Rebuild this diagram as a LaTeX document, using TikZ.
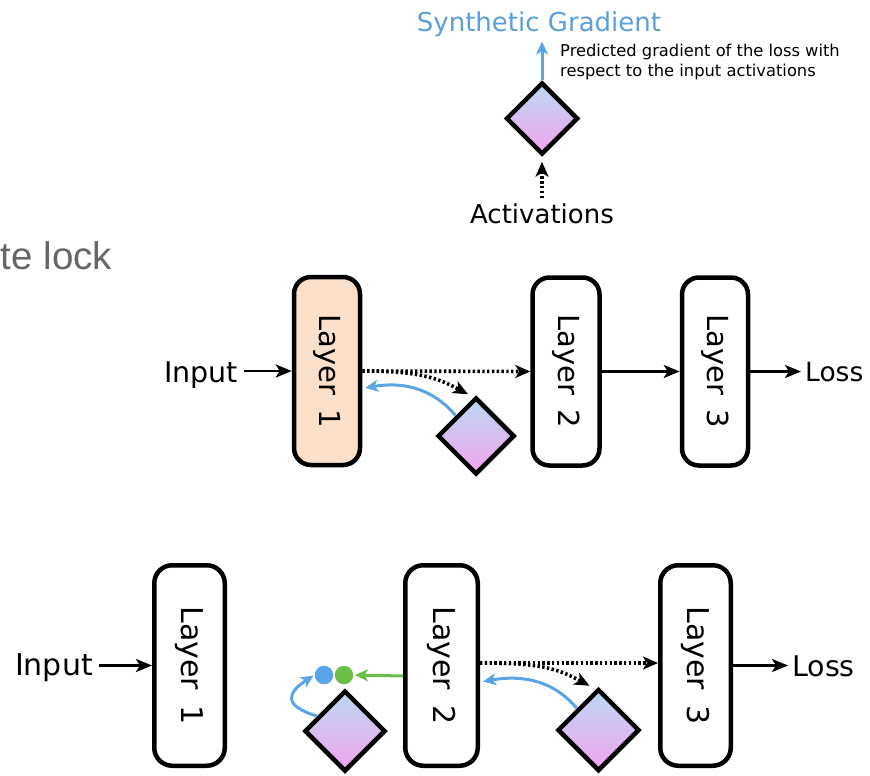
\documentclass[tikz,border=0pt]{standalone}
\usepackage{fontspec}
\setmainfont{DejaVu Sans}
\newfontfamily\arialfont{Liberation Sans}
\usetikzlibrary{shapes.geometric,arrows.meta,calc}

\definecolor{sgblue}{HTML}{5AA5E6}
\definecolor{sgtext}{HTML}{5B9FDA}
\definecolor{actgreen}{HTML}{6BBF47}
\definecolor{peach}{HTML}{FCE0C9}
\definecolor{dtop}{HTML}{BCD9F4}
\definecolor{dbot}{HTML}{F2A4EE}
\definecolor{lockgrey}{HTML}{666666}

\begin{document}
\begin{tikzpicture}[x=1pt,y=1pt,
  layerbox/.style={draw=black, line width=4.5pt, fill=white, inner sep=0pt},
  layertext/.style={rotate=-90, inner sep=0pt},
  sgdiamond/.style={diamond, aspect=1, draw=black, line width=4.5pt,
    top color=dtop, bottom color=dbot, inner sep=0pt,
    minimum width=#1, minimum height=#1},
  label/.style={inner sep=0pt},
  blk/.style={line width=2.8pt, -{Stealth[length=16pt,width=13pt,inset=4pt]}},
  dots/.style={line width=3.6pt, dash pattern=on 2.4pt off 2.4pt,
    -{Stealth[length=15pt,width=13pt,inset=4pt]}},
  bluearr/.style={draw=sgblue, line width=3pt,
    -{Stealth[length=13pt,width=12pt,inset=3.5pt,color=sgblue]}},
  greenarr/.style={draw=actgreen, line width=3pt,
    -{Stealth[length=13pt,width=12pt,inset=3.5pt,color=actgreen]}},
  dot/.style={circle, inner sep=0pt, minimum size=18.5pt},
]
\useasboundingbox (0,0) rectangle (870,-776);

% ---- heading fragment
\node[label, anchor=base west, text=lockgrey,
      font=\arialfont\fontsize{38.5}{44}\selectfont] (lock) at (0.5,-269) {te lock};

% ---- synthetic gradient module
\node[sgdiamond=72pt] (d0) at (542,-118.5) {};
\node[label, anchor=base, text=sgtext, font=\fontsize{26}{30}\selectfont]
  (sg) at (539,-32) {Synthetic Gradient};
\node[label, anchor=north west, align=left, font=\fontsize{16.3}{20}\selectfont]
  (note) at (560,-43.5) {Predicted gradient of the loss with\\respect to the input activations};
\node[label, anchor=base, font=\fontsize{26}{30}\selectfont]
  (act) at (542,-223) {Activations};
\draw[dots, shorten >=5pt] ($(act.north)+(0,5)$) -- (d0.south);
\draw[bluearr] (d0.north) -- ($(d0.north |- sg.south)+(0,-4)$);

% ---- upper network: layer 1 locked
\begin{scope}[font=\fontsize{29}{34}\selectfont]
\node[layerbox, fill=peach, rounded corners=17pt, minimum width=66pt, minimum height=188pt]
  (L1) at (327,-371) {};
\node[layertext] (L1t) at (L1) {Layer\hspace{0.5em}1};
\node[layerbox, rounded corners=17pt, minimum width=67pt, minimum height=188pt]
  (L2) at (566,-371.5) {};
\node[layertext] (L2t) at (L2) {Layer\hspace{0.5em}2};
\node[layerbox, rounded corners=17pt, minimum width=66pt, minimum height=188pt]
  (L3) at (715,-371.5) {};
\node[layertext] (L3t) at (L3) {Layer\hspace{0.5em}3};
\node[sgdiamond=77pt] (d1) at (476,-436) {};
\end{scope}
\node[label, anchor=base east, font=\fontsize{28.5}{33}\selectfont] (in1) at (238,-382) {Input};
\node[label, anchor=base west, font=\fontsize{26.5}{30}\selectfont] (loss1) at (805,-381) {Loss};

\draw[blk, shorten <=6pt] (in1.east |- L1.west) -- (L1.west);
\draw[blk] (L2.east) -- (L3.west);
\draw[blk, shorten >=4pt] (L3.east) -- (L3.east -| loss1.west);
\draw[dots] (L1.east) -- (L2.west);
\draw[dots] (L1.east) .. controls +(58,0) and +(-30,16) .. ($(d1.north)+(-8,1)$);
\draw[bluearr] (d1.north west) to[out=130, in=10] ($(L1.east)+(3,-17)$);

% ---- lower network: decoupled layers
\begin{scope}[font=\fontsize{30}{35}\selectfont]
\node[layerbox, rounded corners=18pt, minimum width=70.5pt, minimum height=200.5pt]
  (L1b) at (189.5,-665.5) {};
\node[layertext] (L1bt) at (L1b) {Layer\hspace{0.5em}1};
\node[layerbox, rounded corners=18pt, minimum width=72.5pt, minimum height=200.5pt]
  (L2b) at (441.5,-665.5) {};
\node[layertext] (L2bt) at (L2b) {Layer\hspace{0.5em}2};
\node[layerbox, rounded corners=18pt, minimum width=70.5pt, minimum height=200.5pt]
  (L3b) at (695.5,-665.5) {};
\node[layertext] (L3bt) at (L3b) {Layer\hspace{0.5em}3};
\node[sgdiamond=81pt] (d2) at (345,-731) {};
\node[sgdiamond=82pt] (d3) at (598.5,-730) {};
\end{scope}
\node[label, anchor=base east, font=\fontsize{30}{35}\selectfont] (in2) at (93,-675) {Input};
\node[label, anchor=base west, font=\fontsize{28.5}{33}\selectfont] (loss2) at (792,-676) {Loss};
\node[dot, fill=sgblue] (bdot) at (324,-675) {};
\node[dot, fill=actgreen] (gdot) at (344,-675) {};

\draw[blk, shorten <=6pt] (in2.east |- L1b.west) -- (L1b.west);
\draw[blk, shorten >=4pt] (L3b.east) -- (L3b.east -| loss2.west);
\draw[dots] ($(L2b.east)+(0,2.5)$) -- ($(L3b.west)+(0,2.5)$);
\draw[dots] ($(L2b.east)+(0,2.5)$) .. controls +(62,0) and +(-32,17) .. ($(d3.north)+(-9,1)$);
\draw[bluearr] (d3.north west) to[out=130, in=10] ($(L2b.east)+(3,-16)$);
\draw[greenarr, shorten >=1.5pt] ($(L2b.west)+(0,-10.5)$) -- (gdot.east);
\draw[bluearr, shorten >=1pt] ($(d2.west)!0.35!(d2.north)$)
  .. controls +(-34,10) and +(-28,-18) .. (bdot.west);
\end{tikzpicture}
\end{document}
